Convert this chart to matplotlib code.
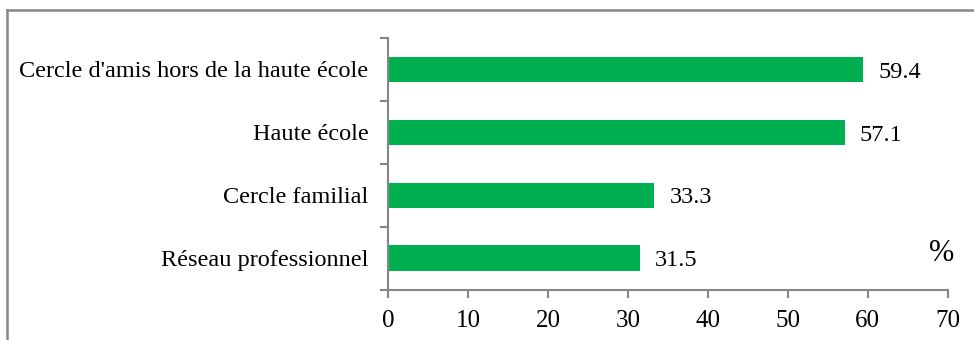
import matplotlib
matplotlib.use("Agg")
import matplotlib.pyplot as plt
from matplotlib.lines import Line2D

categories = ["Réseau professionnel", "Cercle familial", "Haute école",
              "Cercle d'amis hors de la haute école"]
values = [31.5, 33.3, 57.1, 59.4]
xticks = [0, 10, 20, 30, 40, 50, 60, 70]

plt.rcParams['font.family'] = ['Liberation Serif', 'DejaVu Serif']

fig = plt.figure(figsize=(9.74, 3.40), dpi=100)
ax = fig.add_axes([388/974, 1-289.5/340, (947.7-388)/974, (289.5-38)/340])

green = '#00B050'
gray = '#868686'
pos = list(range(len(categories)))
ax.barh(pos, values, height=0.4, color=green)
ax.set_xlim(0, 70)
ax.set_ylim(-0.5, len(categories)-0.5)
ax.set_xticks(xticks)
ax.set_xticklabels([str(t) for t in xticks], fontsize=18)
ax.set_yticks(pos)
ax.set_yticklabels(categories, fontsize=17.5)
# boundary ticks on y axis
ax.set_yticks([p - 0.5 for p in pos] + [len(categories) - 0.5], minor=True)
ax.tick_params(axis='y', which='major', length=0, pad=14)
ax.tick_params(axis='y', which='minor', length=6, width=1.5, color=gray)
ax.tick_params(axis='x', length=6, width=1.5, color=gray, pad=9)
for s in ['top', 'right']:
    ax.spines[s].set_visible(False)
for s in ['left', 'bottom']:
    ax.spines[s].set_color(gray)
    ax.spines[s].set_linewidth(1.5)

for p, v in zip(pos, values):
    ax.annotate(f"{v}", xy=(v, p), xytext=(11, -2), textcoords='offset points',
                ha='left', va='center', fontsize=17.5)

ax.text(0.99, 0.145, "%", transform=ax.transAxes, fontsize=22, ha='center', va='center')

# outer border (top and left visible)
fig.add_artist(Line2D([7/974, 7/974], [0, 1-10/340], transform=fig.transFigure,
                      color='#878787', linewidth=1.8))
fig.add_artist(Line2D([7/974, 1], [1-10/340, 1-10/340], transform=fig.transFigure,
                      color='#878787', linewidth=1.8))

fig.savefig("out.png", dpi=100)
